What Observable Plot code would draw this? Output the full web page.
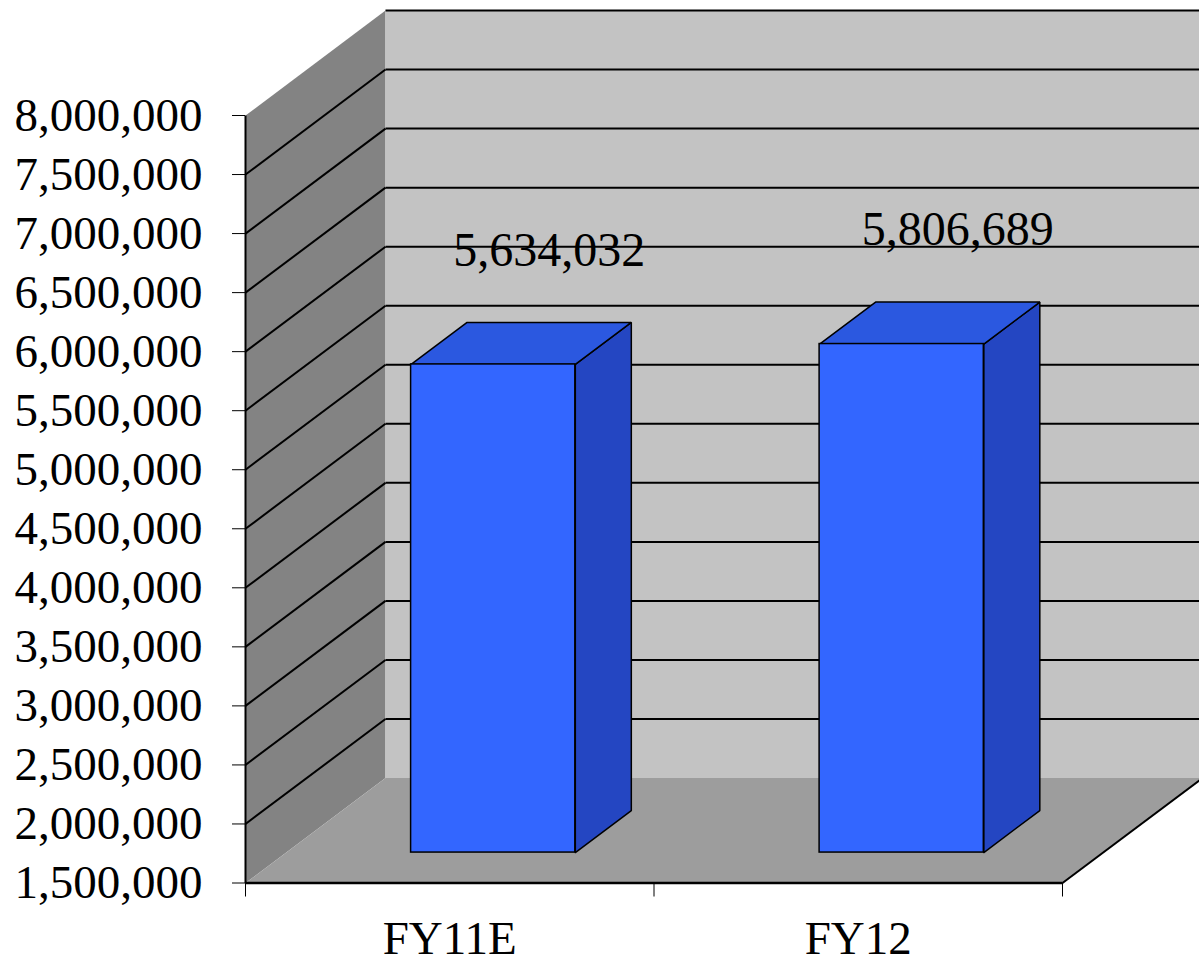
<!DOCTYPE html>
<html>
<head>
<meta charset="utf-8">
<script src="https://cdn.jsdelivr.net/npm/d3@7"></script>
<script src="https://cdn.jsdelivr.net/npm/@observablehq/plot@0.6"></script>
<style>
  html, body { margin: 0; padding: 0; background: #ffffff; }
  #chart svg { display: block; }
  g[aria-label^="y-axis"] line, g[aria-label^="x-axis"] line { stroke-width: 2px; }
</style>
</head>
<body>
<div id="chart"></div>
<script>
// Data
const categories = ["FY11E", "FY12"];
const values = [5634032, 5806689];
const yTickValues = [1500000, 2000000, 2500000, 3000000, 3500000, 4000000, 4500000,
                     5000000, 5500000, 6000000, 6500000, 7000000, 7500000, 8000000];

// 3-D box geometry (in data units)
const Y_MIN = yTickValues[0];
const Y_MAX = yTickValues[yTickValues.length - 1];
const N = categories.length;
const DEPTH_X = 0.3427;      // receding offset along x, in category widths
const DEPTH_Y = 889000;      // receding offset along y, in value units
const BAR_FRONT = 0.29;      // depth fraction of the bar's front face
const BAR_BACK = 0.69;       // depth fraction of the bar's back face
const BAR_X0 = 0.306;        // bar start within its category band
const BAR_X1 = 0.708;        // bar end within its category band

// project a point (x, y) at depth d (0 = front plane, 1 = back wall)
const P = (x, y, d) => ({x: x + d * DEPTH_X, y: y + d * DEPTH_Y});

// closed polygon rows for Plot.line (first vertex repeated to close the outline)
function poly(id, pts) {
  return [...pts, pts[0]].map((p) => ({id, ...p}));
}

const sideWall = poly("side", [P(0, Y_MIN, 0), P(0, Y_MAX, 0), P(0, Y_MAX, 1), P(0, Y_MIN, 1)]);
const backWall = poly("back", [P(0, Y_MIN, 1), P(0, Y_MAX, 1), P(N, Y_MAX, 1), P(N, Y_MIN, 1)]);
const floor = poly("floor", [P(0, Y_MIN, 0), P(N, Y_MIN, 0), P(N, Y_MIN, 1), P(0, Y_MIN, 1)]);

// gridlines on the back wall and receding lines on the side wall
const backGrid = yTickValues.filter((t) => t > Y_MIN).map((t) => {
  const a = P(0, t, 1), b = P(N, t, 1);
  return {x1: a.x, y1: a.y, x2: b.x, y2: b.y};
});
const sideGrid = yTickValues.filter((t) => t > Y_MIN && t < Y_MAX).map((t) => {
  const a = P(0, t, 0), b = P(0, t, 1);
  return {x1: a.x, y1: a.y, x2: b.x, y2: b.y};
});
const floorEdge = [(() => { const a = P(N, Y_MIN, 0), b = P(N, Y_MIN, 1); return {x1: a.x, y1: a.y, x2: b.x, y2: b.y}; })()];
const axisBase = [{x1: 0, y1: Y_MIN, x2: N, y2: Y_MIN}];
const axisSide = [{x1: 0, y1: Y_MIN, x2: 0, y2: Y_MAX}];

// bar faces
const barFront = values.map((v, i) => {
  const a = P(i + BAR_X0, Y_MIN, BAR_FRONT), b = P(i + BAR_X1, v, BAR_FRONT);
  return {x1: a.x, x2: b.x, y1: a.y, y2: b.y};
});
const barTop = values.flatMap((v, i) => poly("top" + i, [
  P(i + BAR_X0, v, BAR_FRONT), P(i + BAR_X1, v, BAR_FRONT),
  P(i + BAR_X1, v, BAR_BACK), P(i + BAR_X0, v, BAR_BACK)
]));
const barSide = values.flatMap((v, i) => poly("side" + i, [
  P(i + BAR_X1, Y_MIN, BAR_FRONT), P(i + BAR_X1, v, BAR_FRONT),
  P(i + BAR_X1, v, BAR_BACK), P(i + BAR_X1, Y_MIN, BAR_BACK)
]));

// value labels above each bar's back edge
const valueLabels = values.map((v, i) => {
  const p = P(i + (BAR_X0 + BAR_X1) / 2, v, BAR_BACK);
  return {x: p.x, y: p.y, text: d3.format(",")(v)};
});
const categoryLabels = categories.map((c, i) => ({x: i + 0.5, y: Y_MIN, text: c}));

const chart = Plot.plot({
  width: 1199,
  height: 963,
  marginLeft: 245,
  marginRight: 137,
  marginTop: 115,
  marginBottom: 80.5,
  style: {
    fontFamily: "'Liberation Serif', 'Times New Roman', serif",
    fontSize: "47px",
    color: "black",
    background: "white",
    overflow: "visible"
  },
  x: {domain: [0, N], ticks: [0, 1, 2], tickFormat: () => "", tickSize: 14, label: null},
  y: {domain: [Y_MIN, Y_MAX], ticks: yTickValues, tickFormat: d3.format(","), tickSize: 13, tickPadding: 30, label: null},
  marks: [
    Plot.line(sideWall, {x: "x", y: "y", z: "id", fill: "#838383", stroke: "none", curve: "linear"}),
    Plot.line(backWall, {x: "x", y: "y", z: "id", fill: "#c3c3c3", stroke: "none", curve: "linear"}),
    Plot.line(floor, {x: "x", y: "y", z: "id", fill: "#9d9d9d", stroke: "none", curve: "linear"}),
    Plot.link(backGrid, {x1: "x1", y1: "y1", x2: "x2", y2: "y2", stroke: "black", strokeWidth: 2}),
    Plot.link(sideGrid, {x1: "x1", y1: "y1", x2: "x2", y2: "y2", stroke: "black", strokeWidth: 2}),
    Plot.link(floorEdge, {x1: "x1", y1: "y1", x2: "x2", y2: "y2", stroke: "black", strokeWidth: 2}),
    Plot.line(barSide, {x: "x", y: "y", z: "id", fill: "#2446c2", stroke: "black", strokeWidth: 1.5, strokeLinejoin: "miter", curve: "linear"}),
    Plot.line(barTop, {x: "x", y: "y", z: "id", fill: "#2b58e0", stroke: "black", strokeWidth: 1.5, strokeLinejoin: "miter", curve: "linear"}),
    Plot.rect(barFront, {x1: "x1", x2: "x2", y1: "y1", y2: "y2", fill: "#3366ff", stroke: "black", strokeWidth: 1.5}),
    Plot.link(axisBase, {x1: "x1", y1: "y1", x2: "x2", y2: "y2", stroke: "black", strokeWidth: 2.5}),
    Plot.link(axisSide, {x1: "x1", y1: "y1", x2: "x2", y2: "y2", stroke: "black", strokeWidth: 2}),
    Plot.text(valueLabels, {x: "x", y: "y", text: "text", dy: -72, fontSize: 48, fill: "black"}),
    Plot.text(categoryLabels, {x: "x", y: "y", text: "text", dy: 55.5, fontSize: 47, fill: "black"})
  ]
});

document.getElementById("chart").appendChild(chart);
</script>
</body>
</html>
